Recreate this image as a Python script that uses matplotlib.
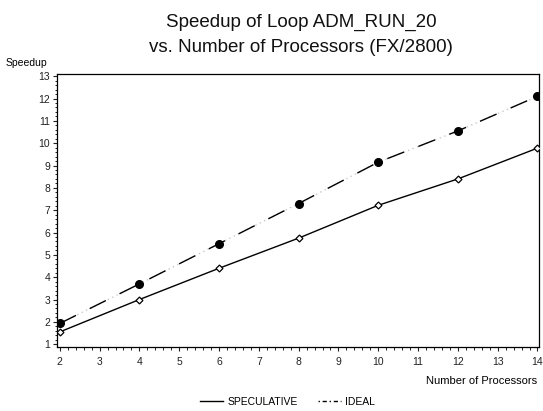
import numpy as np
import matplotlib
matplotlib.use('Agg')
import matplotlib.pyplot as plt
from matplotlib.ticker import AutoMinorLocator
from matplotlib.lines import Line2D

# data =======================================================
processors = [2, 4, 6, 8, 10, 12, 14]
speculative = [1.55, 3.0, 4.4, 5.75, 7.22, 8.4, 9.78]
ideal = [1.93, 3.7, 5.5, 7.3, 9.15, 10.55, 12.1]

plt.rcParams['font.family'] = ['Liberation Sans', 'DejaVu Sans']

fig = plt.figure(figsize=(5.43, 4.11), dpi=100)
ax = fig.add_axes([0.105, 0.156, 0.887, 0.664])

# speculative: solid line, open diamonds
ax.plot(processors, speculative, color='black', lw=1.0, zorder=3)
ax.plot(processors, speculative, ls='none', marker='D', ms=3.5,
        mfc='white', mec='black', mew=0.9, zorder=4)

# ideal: dashes with light dotted gaps
ax.plot(processors, ideal, color='#c8c8c8', lw=1.0, ls=(0, (1, 2.5)), zorder=2)
ax.plot(processors, ideal, color='black', lw=1.0, ls=(0, (13, 11)), zorder=3)
ax.plot(processors, ideal, ls='none', marker='o', ms=5.5,
        mfc='black', mec='black', zorder=4)

ax.set_xlim(1.93, 14.03)
ax.set_ylim(0.88, 13.1)
ax.set_xticks(range(2, 15))
ax.set_yticks(range(1, 14))
ax.xaxis.set_minor_locator(AutoMinorLocator(5))
ax.yaxis.set_minor_locator(AutoMinorLocator(5))
ax.tick_params(which='major', direction='out', length=3, width=0.8,
               labelsize=7.5, colors='#222222')
ax.tick_params(axis='x', which='major', pad=4.5)
ax.tick_params(axis='y', which='major', pad=2)
ax.tick_params(which='minor', direction='out', length=1.8, width=0.6)
for s in ax.spines.values():
    s.set_linewidth(0.9)

fig.text(0.555, 0.945, 'Speedup of Loop ADM_RUN_20', ha='center',
         va='center', fontsize=13.5, color='#111111')
fig.text(0.555, 0.885, 'vs. Number of Processors (FX/2800)', ha='center',
         va='center', fontsize=13.5, color='#111111')
fig.text(0.01, 0.847, 'Speedup', ha='left', va='center', fontsize=7.5)
fig.text(0.99, 0.073, 'Number of Processors', ha='right', va='center',
         fontsize=8)

handles = [Line2D([], [], color='black', lw=1.0),
           Line2D([], [], color='black', lw=1.0, ls=(0, (1, 2, 3, 2)))]
fig.legend(handles, ['SPECULATIVE', 'IDEAL'], loc='center',
           bbox_to_anchor=(0.53, 0.022), ncol=2, frameon=False,
           fontsize=7.5, handlelength=2.2, handletextpad=0.4,
           columnspacing=2.0)

fig.savefig('out.png', dpi=100)
